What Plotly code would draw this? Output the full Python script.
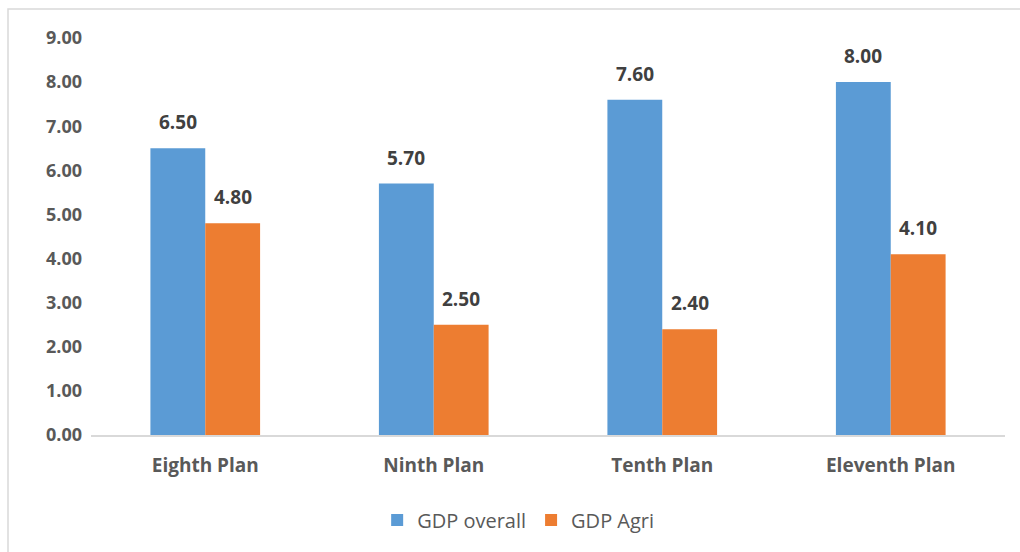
import plotly.graph_objects as go

plans = ["Eighth Plan", "Ninth Plan", "Tenth Plan", "Eleventh Plan"]
gdp_overall = [6.50, 5.70, 7.60, 8.00]
gdp_agri = [4.80, 2.50, 2.40, 4.10]
y_ticks = [0, 1, 2, 3, 4, 5, 6, 7, 8, 9]

FONT = "Open Sans"
W, H = 1020, 552
L, R, T, B = 91, 15, 38, 117
BAR_PX = 55  # approximate rendered bar width, used for label offset

fig = go.Figure()
fig.add_trace(go.Bar(
    name="GDP overall", x=plans, y=gdp_overall,
    marker=dict(color="#5B9BD5", line=dict(width=0)),
))
fig.add_trace(go.Bar(
    name="GDP Agri", x=plans, y=gdp_agri,
    marker=dict(color="#ED7D31", line=dict(width=0)),
))

annotations = []
for series, shift in ((gdp_overall, -BAR_PX / 2), (gdp_agri, BAR_PX / 2)):
    for p, v in zip(plans, series):
        annotations.append(dict(
            x=p, y=v, xref="x", yref="y", text=f"{v:.2f}", showarrow=False,
            xshift=shift, yshift=11, yanchor="bottom",
            font=dict(family=FONT, size=19, color="#404040", weight="bold"),
        ))

pw = W - L - R
ph = H - T - B
fig.update_layout(
    width=W, height=H,
    margin=dict(l=L, r=R, t=T, b=B),
    paper_bgcolor="white", plot_bgcolor="white",
    barmode="group", bargap=0.52, bargroupgap=0,
    font=dict(family=FONT, color="#595959"),
    showlegend=True,
    legend=dict(orientation="h", x=0.508, xanchor="center",
                xref="container", y=(H - 520) / H, yref="container", yanchor="middle",
                font=dict(family=FONT, size=20, color="#595959"),
                itemwidth=30, traceorder="normal"),
    annotations=annotations,
    shapes=[dict(type="rect", xref="paper", yref="paper",
                 x0=(8 - L) / pw, x1=(W + 20 - L) / pw,
                 y0=-(H + 20 - T - ph) / ph - 0.2, y1=(ph + T - 9) / ph,
                 line=dict(color="#D9D9D9", width=1.5), fillcolor="rgba(0,0,0,0)",
                 layer="below")],
)
fig.update_yaxes(range=[0, 9], tickvals=y_ticks, ticktext=[f"{v:.2f}" for v in y_ticks],
                 showgrid=False, zeroline=False, showline=False, ticks="",
                 tickfont=dict(family=FONT, size=18, color="#595959", weight="bold"),
                 ticklabelstandoff=8)
fig.update_xaxes(showline=True, linecolor="#D9D9D9", linewidth=1.5, ticks="",
                 tickfont=dict(family=FONT, size=19, color="#595959", weight="bold"),
                 ticklabelstandoff=12)

fig.write_html("out.html")
